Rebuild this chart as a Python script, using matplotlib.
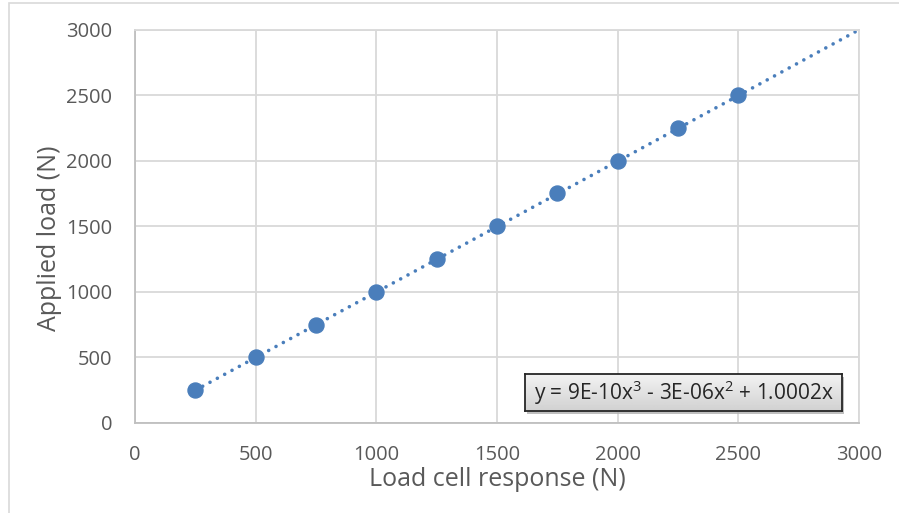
import matplotlib
matplotlib.use("Agg")
import matplotlib.pyplot as plt
from matplotlib.patches import Rectangle
import numpy as np

plt.rcParams['font.family'] = ['Open Sans', 'DejaVu Sans']
plt.rcParams['mathtext.fontset'] = 'custom'
plt.rcParams['mathtext.rm'] = 'Open Sans'

x_resp = [250, 500, 750, 1000, 1250, 1500, 1750, 2000, 2250, 2500]
y_load = [250, 500, 750, 1000, 1250, 1500, 1750, 2000, 2250, 2500]
trend_coef = [9e-10, -3e-6, 1.0002, 0.0]  # cubic, quadratic, linear, const
trend_range = [250, 3000]
ticks = [0, 500, 1000, 1500, 2000, 2500, 3000]
eq_text = "y = 9E-10x$^3$ - 3E-06x$^2$ + 1.0002x"

blue = '#4a7ebb'
grey_txt = '#595959'
W, H = 899, 513
fig = plt.figure(figsize=(W/100, H/100), dpi=100)
ax_l, ax_t, ax_r, ax_b = 135, 29.5, 859, 423
ax = fig.add_axes([ax_l/W, 1-ax_b/H, (ax_r-ax_l)/W, (ax_b-ax_t)/H])

# outer chart border
fig.patches.append(Rectangle((9/W, -0.1), 1.2, 1-3/H+0.1, transform=fig.transFigure,
                             fill=False, edgecolor='#d9d9d9', lw=1.2))

ax.set_xlim(0, 3000)
ax.set_ylim(0, 3000)
ax.set_xticks(ticks)
ax.set_yticks(ticks)
ax.grid(True, color='#d9d9d9', lw=1.3)
ax.set_axisbelow(True)
for s in ['top', 'right']:
    ax.spines[s].set_color('#d9d9d9')
    ax.spines[s].set_linewidth(1.3)
for s in ['left', 'bottom']:
    ax.spines[s].set_color('#bfbfbf')
    ax.spines[s].set_linewidth(1.3)
ax.tick_params(length=0, labelsize=14.5, labelcolor=grey_txt)
ax.tick_params(axis='x', pad=16)
ax.tick_params(axis='y', pad=16.5)

xt = np.linspace(trend_range[0], trend_range[1], 300)
yt = np.polyval(trend_coef, xt)
ax.plot(xt, yt, color=blue, lw=2.6, linestyle=(0, (0.01, 2.3)),
        dash_capstyle='round', zorder=2)
ax.plot(x_resp, y_load, 'o', color=blue, ms=10.8, zorder=3, clip_on=False)

ax.set_xlabel('Load cell response (N)', fontsize=18, color=grey_txt)
ax.xaxis.label.set_va('baseline')
ax.xaxis.set_label_coords(0.5, (ax_b-486)/(ax_b-ax_t))
ax.set_ylabel('Applied load (N)', fontsize=18, color=grey_txt)
ax.yaxis.label.set_va('center')
ax.yaxis.set_label_coords((50-ax_l)/(ax_r-ax_l), (ax_b-238)/(ax_b-ax_t))

# equation box with shadow and gradient fill
bx0, by0, bx1, by1 = 525, 374, 842, 411
fig.patches.append(Rectangle(((bx0+2)/W, 1-(by1+3)/H), (bx1-bx0)/W, (by1-by0)/H,
                             transform=fig.transFigure, facecolor='#b0b0b0',
                             edgecolor='none', alpha=0.8, zorder=5))
bax = fig.add_axes([bx0/W, 1-by1/H, (bx1-bx0)/W, (by1-by0)/H], zorder=6)
grad = np.linspace(0.95, 0.82, 50).reshape(-1, 1)
bax.imshow(grad, cmap='gray', vmin=0, vmax=1, aspect='auto', extent=[0, 1, 0, 1],
           origin='upper')
bax.set_xticks([])
bax.set_yticks([])
for s in bax.spines.values():
    s.set_color('#262626')
    s.set_linewidth(1.3)
bax.text(0.5, 0.5, eq_text, ha='center', va='center', fontsize=15,
         color='#262626', transform=bax.transAxes)

fig.savefig('out.png', dpi=100)
